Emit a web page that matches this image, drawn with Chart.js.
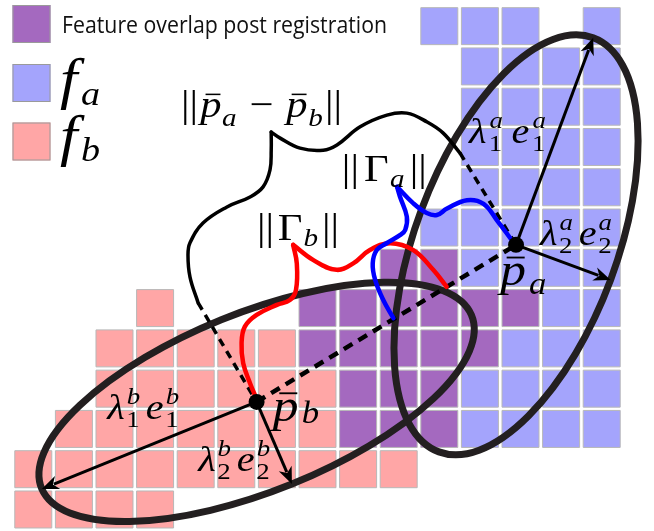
<!DOCTYPE html>
<html>
<head>
<meta charset="utf-8">
<script src="https://cdn.jsdelivr.net/npm/chart.js@4.4.1/dist/chart.umd.min.js"></script>
<style>
  html, body { margin: 0; padding: 0; background: #fff; }
  canvas { display: block; }
</style>
</head>
<body>
<canvas id="c" width="654" height="531"></canvas>
<script>
// ---- Feature cells on the registration grid, [column, row] ----
const cellsA = [
  [10,0],[11,0],[12,0],[14,0],
  [11,1],[12,1],[13,1],[14,1],
  [11,2],[12,2],[13,2],[14,2],
  [11,3],[12,3],[13,3],[14,3],
  [11,4],[12,4],[13,4],[14,4],
  [10,5],[11,5],[12,5],[13,5],[14,5],
  [11,6],[12,6],[13,6],[14,6],
  [13,7],[14,7],
  [12,8],[13,8],[14,8],
  [11,9],[12,9],[13,9],[14,9],
  [11,10],[12,10],[13,10],[14,10]
];
const cellsB = [
  [3,7],
  [2,8],[3,8],[4,8],[5,8],[6,8],
  [2,9],[3,9],[4,9],[5,9],[6,9],[7,9],
  [1,10],[2,10],[3,10],[4,10],[5,10],[6,10],[7,10],
  [0,11],[1,11],[2,11],[3,11],[4,11],[5,11],[6,11],[7,11],[8,11],[9,11],
  [0,12],[1,12],[2,12],[3,12]
];
const cellsOverlap = [
  [9,6],[10,6],
  [7,7],[8,7],[9,7],[10,7],[11,7],[12,7],
  [7,8],[8,8],[9,8],[10,8],[11,8],
  [8,9],[9,9],[10,9],
  [8,10],[9,10],[10,10]
];

// ---- Feature centroids and principal axes (end points of λ·e) ----
const centroidA = [11.89, 5.43];
const centroidB = [5.50, 9.33];
const axesA = [[13.79, 0.29], [14.22, 6.30]];
const axesB = [[0.21, 11.49], [6.37, 11.37]];

// ---- Distance brace ||p̄a − p̄b|| ----
const braceLeft = [[4.06,6.87],[3.86,6.23],[3.81,5.68],[3.86,5.38],[4.18,4.89],[4.77,4.49],
  [5.34,4.24],[5.66,3.99],[5.83,3.57],[5.86,3.08],[5.86,2.63]];
const braceRight = [[5.86,2.63],[6.08,2.78],[6.57,3.03],[7.14,3.08],[7.48,2.95],[8.05,2.50],
  [8.71,2.21],[9.20,2.16],[9.70,2.38],[10.09,2.65],[10.51,3.15]];

// ---- Γ braces ----
const gammaARight = [[8.96,3.99],[9.36,4.40],[9.69,4.64],[9.94,4.69],[10.19,4.53],[10.68,4.32],
  [11.09,4.41],[11.42,4.82],[11.79,5.32]];
const gammaADown = [[8.96,3.99],[9.03,4.23],[9.20,4.73],[9.16,5.06],[9.03,5.19],[8.70,5.39],
  [8.46,5.56],[8.36,5.89],[8.42,6.30],[8.62,6.80],[8.87,7.25]];
const gammaBRight = [[6.40,5.43],[6.90,5.81],[7.47,6.05],[7.88,5.89],[8.29,5.56],[8.79,5.39],
  [9.36,5.56],[9.85,6.05],[10.18,6.47]];
const gammaBDown = [[6.40,5.43],[6.49,5.89],[6.47,6.55],[6.32,6.80],[6.00,6.92],[5.50,7.17],
  [5.21,7.46],[5.13,7.87],[5.17,8.37],[5.34,8.87],[5.46,9.16]];

// ---- Legend entries ----
const legendOverlapText = 'Feature overlap post registration';
const legendA = { b: 'f', sub: 'a' };
const legendB = { b: 'f', sub: 'b' };

// ---- Colours ----
const COL_A = '#a4a4fc';
const COL_B = '#ffa6a6';
const COL_AB = '#a469bf';
const CELL_EDGE = '#b8b8b8';
const INK = '#231f20';

const pts = arr => arr.map(([x, y]) => ({ x, y }));

// ---- Math-style text ----
function fontFor(s, size) {
  const italic = /[a-zA-Zλ]/.test(s);
  return (italic ? 'italic ' : '') + Math.round(size) + 'px "Liberation Serif"';
}
function textW(ctx, s, size) { ctx.font = fontFor(s, size); return ctx.measureText(s).width; }

// Lays out base glyphs with stacked super/subscripts. Glyphs may widen a
// little; any remaining room is spread between the pieces.
const SCRIPT_W = 0.35;
const MAX_STRETCH = 1.12;
function drawMath(ctx, items, x, y, size, width, opts) {
  const o = Object.assign({ script: 0.68, drop: 0.22, rise: 0.42 }, opts || {});
  const ss = size * o.script;
  let natural = 0, slots = 0;
  items.forEach((it, i) => {
    natural += textW(ctx, it.b, size);
    const sw = Math.max(it.sub ? textW(ctx, it.sub, ss) : 0, it.sup ? textW(ctx, it.sup, ss) : 0);
    if (sw) { natural += sw; slots += SCRIPT_W; }
    if (i > 0) slots += 1;
  });
  let gap = 0, sx;
  if (width > natural && slots) {
    sx = Math.min(MAX_STRETCH, width / natural);
    gap = (width / sx - natural) / slots;
  } else {
    sx = width / natural;
  }
  const g = gap * SCRIPT_W;
  ctx.save();
  ctx.translate(x, y);
  ctx.scale(sx, 1);
  ctx.fillStyle = '#000';
  ctx.textAlign = 'left';
  ctx.textBaseline = 'alphabetic';
  let cx = 0;
  items.forEach((it, i) => {
    if (i > 0) cx += gap;
    ctx.font = fontFor(it.b, size);
    const bw = ctx.measureText(it.b).width;
    ctx.fillText(it.b, cx, 0);
    if (it.bar) ctx.fillRect(cx + bw * 0.25, -size * 0.62, bw * 0.7, Math.max(1.5, size * 0.04));
    cx += bw;
    let sw = 0;
    if (it.sup) {
      ctx.font = fontFor(it.sup, ss);
      ctx.fillText(it.sup, cx + g, -size * o.rise);
      sw = Math.max(sw, ctx.measureText(it.sup).width);
    }
    if (it.sub) {
      ctx.font = fontFor(it.sub, ss);
      ctx.fillText(it.sub, cx + g * 0.8, size * o.drop);
      sw = Math.max(sw, ctx.measureText(it.sub).width);
    }
    if (sw) cx += g + sw;
  });
  ctx.restore();
}

// Annotation labels, anchored (left, baseline) in grid units
const annotations = [
  { at: [3.64, 2.26], size: 38, w: 161, items: [{ b: '||' }, { b: 'p', bar: 1, sub: 'a' }, { b: ' − ' }, { b: 'p', bar: 1, sub: 'b' }, { b: '||' }] },
  { at: [7.60, 3.84], size: 38, w: 85, items: [{ b: '||' }, { b: 'Γ', sub: 'a' }, { b: '||' }], opts: { drop: 0.16 } },
  { at: [5.51, 5.31], size: 38, w: 82, items: [{ b: '||' }, { b: 'Γ', sub: 'b' }, { b: '||' }], opts: { drop: 0.16 } },
  { at: [10.73, 2.90], size: 36, w: 77, items: [{ b: 'λ', sub: '1', sup: 'a' }, { b: 'e', sub: '1', sup: 'a' }] },
  { at: [12.48, 5.43], size: 36, w: 72, items: [{ b: 'λ', sub: '2', sup: 'a' }, { b: 'e', sub: '2', sup: 'a' }] },
  { at: [11.50, 6.43], size: 46, w: 47, items: [{ b: 'p', bar: 1, sub: 'a' }], opts: { drop: 0.2 } },
  { at: [5.90, 9.80], size: 46, w: 47, items: [{ b: 'p', bar: 1, sub: 'b' }], opts: { drop: 0.05 } },
  { at: [1.82, 9.75], size: 36, w: 72, items: [{ b: 'λ', sub: '1', sup: 'b' }, { b: 'e', sub: '1', sup: 'b' }] },
  { at: [4.06, 11.04], size: 36, w: 72, items: [{ b: 'λ', sub: '2', sup: 'b' }, { b: 'e', sub: '2', sup: 'b' }] }
];

function drawEllipse(ctx, xs, ys, c, e1, e2) {
  const cx = xs.getPixelForValue(c[0]), cy = ys.getPixelForValue(c[1]);
  const ax = xs.getPixelForValue(e1[0]) - cx, ay = ys.getPixelForValue(e1[1]) - cy;
  const bx = xs.getPixelForValue(e2[0]) - cx, by = ys.getPixelForValue(e2[1]) - cy;
  ctx.beginPath();
  ctx.save();
  ctx.transform(ax, ay, bx, by, cx, cy);
  ctx.arc(0, 0, 1, 0, Math.PI * 2);
  ctx.restore();
  ctx.stroke();
}

function drawArrow(ctx, xs, ys, from, to) {
  const x0 = xs.getPixelForValue(from[0]), y0 = ys.getPixelForValue(from[1]);
  const x1 = xs.getPixelForValue(to[0]), y1 = ys.getPixelForValue(to[1]);
  const dx = x1 - x0, dy = y1 - y0, L = Math.hypot(dx, dy), ux = dx / L, uy = dy / L;
  const head = 17, half = 7;
  const bx = x1 - ux * head, by = y1 - uy * head;
  ctx.strokeStyle = '#000';
  ctx.fillStyle = '#000';
  ctx.lineWidth = 3;
  ctx.beginPath();
  ctx.moveTo(x0, y0);
  ctx.lineTo(bx + ux * 4, by + uy * 4);
  ctx.stroke();
  ctx.beginPath();
  ctx.moveTo(x1, y1);
  ctx.lineTo(bx - uy * half, by + ux * half);
  ctx.lineTo(bx + ux * 5, by + uy * 5);
  ctx.lineTo(bx + uy * half, by - ux * half);
  ctx.closePath();
  ctx.fill();
}

const sketch = {
  id: 'sketch',
  afterDatasetDraw(chart, args) {
    if (chart.data.datasets[args.index].label !== 'overlap') return;
    const { ctx, scales: { x, y } } = chart;
    ctx.save();
    ctx.strokeStyle = INK;
    ctx.lineWidth = 7;
    drawEllipse(ctx, x, y, centroidA, axesA[0], axesA[1]);
    drawEllipse(ctx, x, y, centroidB, axesB[0], axesB[1]);
    drawArrow(ctx, x, y, centroidA, axesA[0]);
    drawArrow(ctx, x, y, centroidA, axesA[1]);
    drawArrow(ctx, x, y, centroidB, axesB[0]);
    drawArrow(ctx, x, y, centroidB, axesB[1]);
    ctx.restore();
  },
  afterDatasetsDraw(chart) {
    const { ctx, scales: { x, y } } = chart;
    for (const a of annotations) {
      drawMath(ctx, a.items, x.getPixelForValue(a.at[0]), y.getPixelForValue(a.at[1]), a.size, a.w, a.opts);
    }
  },
  afterDraw(chart) {
    const ctx = chart.ctx;
    ctx.save();
    const box = (x0, y0, col) => {
      ctx.fillStyle = col;
      ctx.fillRect(x0, y0, 38, 38);
      ctx.strokeStyle = '#9a9a9a';
      ctx.lineWidth = 1;
      ctx.strokeRect(x0 + 0.5, y0 + 0.5, 37, 37);
    };
    box(12.5, 5, COL_AB);
    box(12.5, 64, COL_A);
    box(12.5, 122.5, COL_B);
    ctx.font = '23px "Open Sans"';
    ctx.fillStyle = '#111';
    ctx.textBaseline = 'alphabetic';
    const tw = ctx.measureText(legendOverlapText).width;
    ctx.translate(62, 33);
    ctx.scale(325 / tw, 1);
    ctx.fillText(legendOverlapText, 0, 0);
    ctx.restore();
    drawMath(ctx, [legendA], 60, 98, 56, 41, { script: 0.6, drop: 0.12 });
    drawMath(ctx, [legendB], 60, 155, 56, 41, { script: 0.6, drop: 0.1 });
  }
};

const cellStyle = {
  pointStyle: 'rect',
  pointRadius: 26.16,
  pointHoverRadius: 26.16,
  borderColor: CELL_EDGE,
  borderWidth: 1
};
const stroke = (label, data, color, width, order, extra) => Object.assign({
  label, data: pts(data), showLine: true, borderColor: color, borderWidth: width,
  pointRadius: 0, pointHoverRadius: 0, tension: 0.4, fill: false, order,
  borderCapStyle: 'round', borderJoinStyle: 'round'
}, extra || {});
const dashed = { tension: 0, borderCapStyle: 'butt', borderDash: [10, 7] };
const dotted = { tension: 0, borderCapStyle: 'butt', borderDash: [8, 6] };

new Chart(document.getElementById('c'), {
  type: 'scatter',
  data: {
    datasets: [
      Object.assign({ label: 'f_a', data: pts(cellsA), backgroundColor: COL_A, order: 32 }, cellStyle),
      Object.assign({ label: 'f_b', data: pts(cellsB), backgroundColor: COL_B, order: 31 }, cellStyle),
      Object.assign({ label: 'overlap', data: pts(cellsOverlap), backgroundColor: COL_AB, order: 30 }, cellStyle),
      stroke('centroid link', [centroidB, centroidA], '#000', 4.5, 12, dashed),
      stroke('brace link a', [braceRight[braceRight.length - 1], centroidA], '#000', 3.5, 12, dotted),
      stroke('brace link b', [braceLeft[0], centroidB], '#000', 3.5, 12, dotted),
      stroke('brace left', braceLeft, '#000', 3.5, 11),
      stroke('brace right', braceRight, '#000', 3.5, 11),
      stroke('gamma b right', gammaBRight, '#ff0000', 4.5, 6),
      stroke('gamma b down', gammaBDown, '#ff0000', 4.5, 6),
      stroke('gamma a right', gammaARight, '#0000ff', 4.5, 5),
      stroke('gamma a down', gammaADown, '#0000ff', 4.5, 5),
      { label: 'centroids', data: pts([centroidA, centroidB]), pointRadius: 8, pointHoverRadius: 8,
        backgroundColor: '#000', borderColor: '#000', borderWidth: 0, order: 0 }
    ]
  },
  options: {
    responsive: false,
    animation: false,
    devicePixelRatio: 1,
    events: [],
    layout: { padding: 0, autoPadding: false },
    plugins: { legend: { display: false }, tooltip: { enabled: false } },
    scales: {
      x: { type: 'linear', min: -0.820, max: 15.288, display: false },
      y: { type: 'linear', min: -0.649, max: 12.534, reverse: true, display: false }
    }
  },
  plugins: [sketch]
});
</script>
</body>
</html>
